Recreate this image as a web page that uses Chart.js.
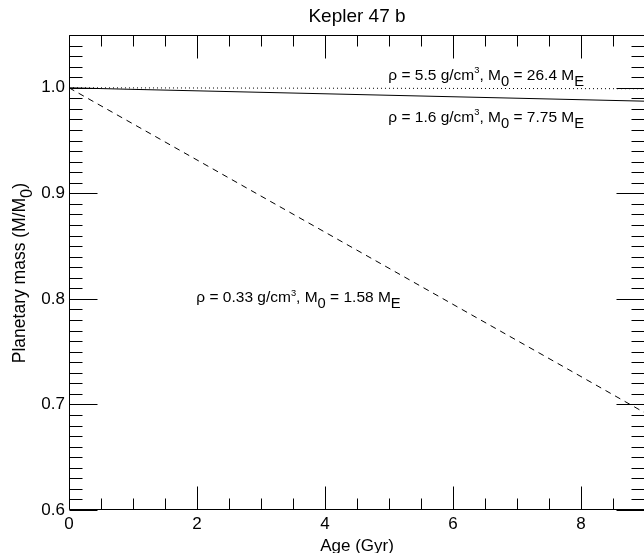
<!DOCTYPE html>
<html><head><meta charset="utf-8">
<script src="https://cdn.jsdelivr.net/npm/chart.js@4/dist/chart.umd.min.js"></script>
<style>
html,body{margin:0;padding:0;background:#fff;overflow:hidden;width:644px;height:553px}
#wrap{width:650px;height:553px}
</style>
</head><body><div id="wrap"><canvas id="c" width="650" height="553"></canvas></div>
<script>
// ---- data ----
const ages = [0, 1, 2, 3, 4, 5, 6, 7, 8, 9];
const massDense  = [1.0, 0.9999, 0.9998, 0.9997, 0.9996, 0.9995, 0.9994, 0.9993, 0.9992, 0.9991]; // rho 5.5
const massMedium = [1.0, 0.9985, 0.9971, 0.9957, 0.9943, 0.9929, 0.9915, 0.9901, 0.9887, 0.9873]; // rho 1.6
const massPuffy  = [1.0, 0.9658, 0.9316, 0.8974, 0.8632, 0.829, 0.7948, 0.7606, 0.7264, 0.692];   // rho 0.33
const xTickValues = [0, 2, 4, 6, 8];
const yTickValues = [0.6, 0.7, 0.8, 0.9, 1.0];
const titleText = 'Kepler 47 b';
const xTitleText = 'Age (Gyr)';

const FONT = '"Liberation Sans", Arial, Helvetica, sans-serif';

function pts(ys){ return ages.map((a,i)=>({x:a, y:ys[i]})); }

// rich text: segments [text, mode] mode: n normal, u superscript, d subscript
const annotations = [
  {x: 4.99, y: 1.0123, segs: [['ρ = 5.5 g/cm','n'],['3','u'],[', M','n'],['0','d'],[' = 26.4 M','n'],['E','d']]},
  {x: 4.99, y: 0.9725, segs: [['ρ = 1.6 g/cm','n'],['3','u'],[', M','n'],['0','d'],[' = 7.75 M','n'],['E','d']]},
  {x: 1.99, y: 0.8015, segs: [['ρ = 0.33 g/cm','n'],['3','u'],[', M','n'],['0','d'],[' = 1.58 M','n'],['E','d']]}
];

function drawRich(ctx, segs, x, y, size){
  ctx.textBaseline = 'alphabetic';
  ctx.textAlign = 'left';
  let cx = x;
  for (const [t,m] of segs){
    let s = size, dy = 0;
    if (m==='u'){ s = size*0.6; dy = -size*0.42; }
    if (m==='d'){ s = size*0.95; dy = size*0.38; }
    ctx.font = s + 'px ' + FONT;
    ctx.fillText(t, cx, y + dy);
    cx += ctx.measureText(t).width;
  }
  return cx - x;
}
function measureRich(ctx, segs, size){
  let w = 0;
  for (const [t,m] of segs){
    let s = size;
    if (m==='u') s = size*0.6;
    if (m==='d') s = size*0.95;
    ctx.font = s + 'px ' + FONT;
    w += ctx.measureText(t).width;
  }
  return w;
}

const framePlugin = {
  id: 'frame',
  afterDraw(chart){
    const ctx = chart.ctx, a = chart.chartArea;
    const xs = chart.scales.x, ys = chart.scales.y;
    ctx.save();
    ctx.strokeStyle = '#000';
    ctx.lineWidth = 1;
    const L = Math.round(a.left)+0.5, R = Math.round(a.right)-0.5, T = Math.round(a.top)+0.5, B = Math.round(a.bottom)-0.5;
    ctx.beginPath();
    ctx.rect(L, T, R-L, B-T);
    ctx.stroke();
    ctx.beginPath();
    for (let i=0;i<=18;i++){
      const v = i*0.5;
      const px = Math.round(xs.getPixelForValue(v))+0.5;
      const len = (i%4===0) ? 23 : 11;
      ctx.moveTo(px, B); ctx.lineTo(px, B-len);
      ctx.moveTo(px, T); ctx.lineTo(px, T+len);
    }
    for (let i=60;i<=105;i++){
      const v = i/100;
      const py = Math.round(ys.getPixelForValue(v))+0.5;
      const len = (i%10===0) ? 28 : 13;
      ctx.moveTo(L, py); ctx.lineTo(L+len, py);
      ctx.moveTo(R, py); ctx.lineTo(R-len, py);
    }
    ctx.stroke();

    ctx.fillStyle = '#000';
    ctx.font = '19px ' + FONT;
    ctx.textAlign = 'center'; ctx.textBaseline = 'alphabetic';
    ctx.fillText(titleText, (a.left + a.right)/2, 22);
    ctx.font = '17px ' + FONT;
    ctx.fillText(xTitleText, (a.left + a.right)/2, 551);
    const ySegs = [['Planetary mass (M/M','n'],['0','d'],[')','n']];
    const yw = measureRich(ctx, ySegs, 17.5);
    ctx.save();
    ctx.translate(25, 273);
    ctx.rotate(-Math.PI/2);
    drawRich(ctx, ySegs, -yw/2, 0, 17.5);
    ctx.restore();
    for (const an of annotations){
      const px = xs.getPixelForValue(an.x), py = ys.getPixelForValue(an.y);
      drawRich(ctx, an.segs, px, py + 5, 15.5);
    }
    ctx.restore();
  }
};

new Chart(document.getElementById('c'), {
  type: 'line',
  data: {
    datasets: [
      {label:'rho 5.5', data: pts(massDense), borderColor:'#000', borderWidth:1, borderDash:[1,3], pointRadius:0, cubicInterpolationMode:'monotone'},
      {label:'rho 1.6', data: pts(massMedium), borderColor:'#000', borderWidth:1, pointRadius:0, cubicInterpolationMode:'monotone'},
      {label:'rho 0.33', data: pts(massPuffy), borderColor:'#000', borderWidth:1, borderDash:[6,5], pointRadius:0, cubicInterpolationMode:'monotone'}
    ]
  },
  options: {
    responsive: false,
    animation: false,
    events: [],
    layout: {padding: {left: 0, right: 5, top: 35, bottom: 0}},
    plugins: {legend: {display:false}, title: {display:false}, tooltip: {enabled:false}},
    scales: {
      x: {
        type: 'linear', min: 0, max: 9,
        grid: {display:false, drawTicks:false},
        border: {display:false},
        afterBuildTicks: s => { s.ticks = xTickValues.map(v=>({value:v})); },
        afterFit: s => { s.height = 43; },
        ticks: {color:'#000', font:{family:FONT, size:17}, padding:4, autoSkip:false, maxRotation:0, callback: v => String(v)}
      },
      y: {
        type: 'linear', min: 0.6, max: 1.05,
        grid: {display:false, drawTicks:false},
        border: {display:false},
        afterBuildTicks: s => { s.ticks = yTickValues.map(v=>({value:v})); },
        afterFit: s => { s.width = 69; },
        ticks: {color:'#000', font:{family:FONT, size:17}, padding:4, autoSkip:false, callback: v => Number(v).toFixed(1)}
      }
    }
  },
  plugins: [framePlugin]
});
</script>
</body></html>
